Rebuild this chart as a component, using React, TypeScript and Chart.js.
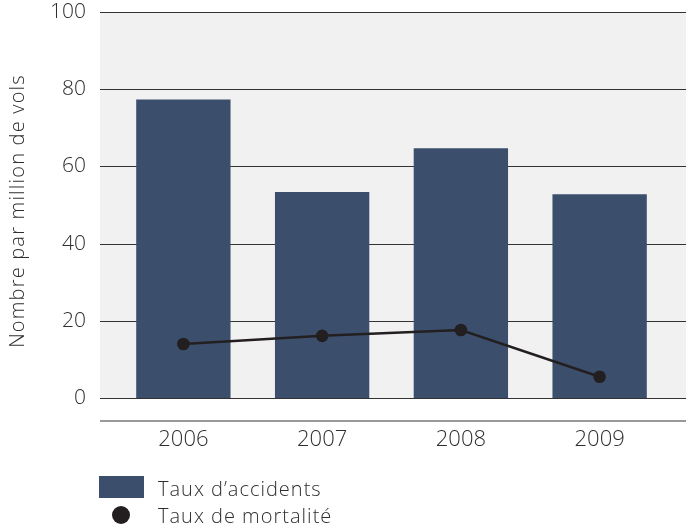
import React, { useEffect, useRef } from "react";
import { Chart, registerables } from "chart.js";

Chart.register(...registerables);

const categories = ["2006", "2007", "2008", "2009"];
const accidentRates = [77.3, 53.4, 64.7, 52.8];
const mortalityRates = [14.0, 16.1, 17.6, 5.5];
const yTicks = [0, 20, 40, 60, 80, 100];

const BAR = "#3b4f6d";
const TEXT = "#2e2e2e";
const FONT = "'Open Sans', 'Liberation Sans', Arial, sans-serif";
const WEIGHT = 300;

const decorPlugin = {
  id: "decor",
  beforeDatasetsDraw(chart: any) {
    const { ctx, scales } = chart;
    const y = scales.y;
    const x0 = 100;
    const x1 = 686;
    const top = y.getPixelForValue(100);
    const bottom = y.getPixelForValue(0);
    ctx.save();
    ctx.fillStyle = "#f1f1f1";
    ctx.fillRect(x0, top, x1 - x0, bottom - top);
    ctx.strokeStyle = "#333333";
    ctx.lineWidth = 1;
    yTicks.forEach((v) => {
      const py = Math.round(y.getPixelForValue(v)) + 0.5;
      ctx.beginPath();
      ctx.moveTo(x0, py);
      ctx.lineTo(x1, py);
      ctx.stroke();
    });
    ctx.strokeStyle = "#999999";
    ctx.lineWidth = 2;
    ctx.beginPath();
    ctx.moveTo(x0, 421);
    ctx.lineTo(x1, 421);
    ctx.stroke();
    ctx.fillStyle = TEXT;
    ctx.font = WEIGHT + " 20px " + FONT;
    try {
      ctx.letterSpacing = "1.2px";
    } catch (e) {}
    ctx.textAlign = "center";
    ctx.textBaseline = "middle";
    ctx.translate(18, 211);
    ctx.rotate(-Math.PI / 2);
    ctx.fillText("Nombre par million de vols", 0, 0);
    ctx.restore();
  },
};

export default function App() {
  const ref = useRef<HTMLCanvasElement | null>(null);
  useEffect(() => {
    if (!ref.current) return;
    const chart = new Chart(ref.current, {
      type: "bar",
      data: {
        labels: categories,
        datasets: [
          {
            type: "line",
            label: "Taux de mortalité",
            data: mortalityRates,
            borderColor: "#231f20",
            backgroundColor: "#231f20",
            borderWidth: 2.5,
            pointRadius: 6.3,
            pointHoverRadius: 6.3,
            pointBackgroundColor: "#231f20",
            pointBorderWidth: 0,
            tension: 0,
            order: 0,
          } as any,
          {
            type: "bar",
            label: "Taux d’accidents",
            data: accidentRates,
            backgroundColor: BAR,
            categoryPercentage: 1,
            barPercentage: 0.68,
            order: 1,
          },
        ],
      },
      options: {
        animation: false,
        responsive: false,
        maintainAspectRatio: false,
        events: [],
        layout: { padding: { top: 12, right: 17, left: 0, bottom: 0 } },
        plugins: { legend: { display: false }, tooltip: { enabled: false } },
        scales: {
          x: {
            offset: true,
            grid: { display: false, drawTicks: false },
            border: { display: false },
            ticks: {
              color: TEXT,
              font: { family: FONT, size: 22, weight: WEIGHT as any },
              padding: 29,
            },
            afterFit(scale: any) {
              scale.height = 134;
              scale.paddingLeft = 0;
              scale.paddingRight = 0;
            },
          },
          y: {
            min: 0,
            max: 100,
            afterBuildTicks(scale: any) {
              scale.ticks = yTicks.map((v) => ({ value: v }));
            },
            grid: { display: false, drawTicks: false },
            border: { display: false },
            ticks: {
              color: TEXT,
              font: { family: FONT, size: 21, weight: WEIGHT as any },
              padding: 28,
            },
            afterFit(scale: any) {
              scale.width = 114;
              scale.paddingTop = 0;
              scale.paddingBottom = 0;
            },
          },
        },
      },
      plugins: [decorPlugin],
    });
    return () => chart.destroy();
  }, []);

  const textStyle: React.CSSProperties = {
    position: "absolute",
    left: 158,
    fontFamily: FONT,
    fontWeight: WEIGHT,
    fontSize: 20,
    letterSpacing: "1px",
    color: TEXT,
    lineHeight: "24px",
    whiteSpace: "nowrap",
  };

  return (
    <div style={{ position: "fixed", left: 0, top: 0, width: 686, height: 532, background: "#fff" }}>
      <canvas ref={ref} width={686} height={532} style={{ display: "block" }} />
      <div style={{ position: "absolute", left: 99, top: 476, width: 45, height: 22, background: BAR }} />
      <div style={{ ...textStyle, top: 477 }}>Taux d’accidents</div>
      <div
        style={{
          position: "absolute",
          left: 112,
          top: 506,
          width: 18,
          height: 18,
          borderRadius: "50%",
          background: "#231f20",
        }}
      />
      <div style={{ ...textStyle, top: 504 }}>Taux de mortalité</div>
    </div>
  );
}
